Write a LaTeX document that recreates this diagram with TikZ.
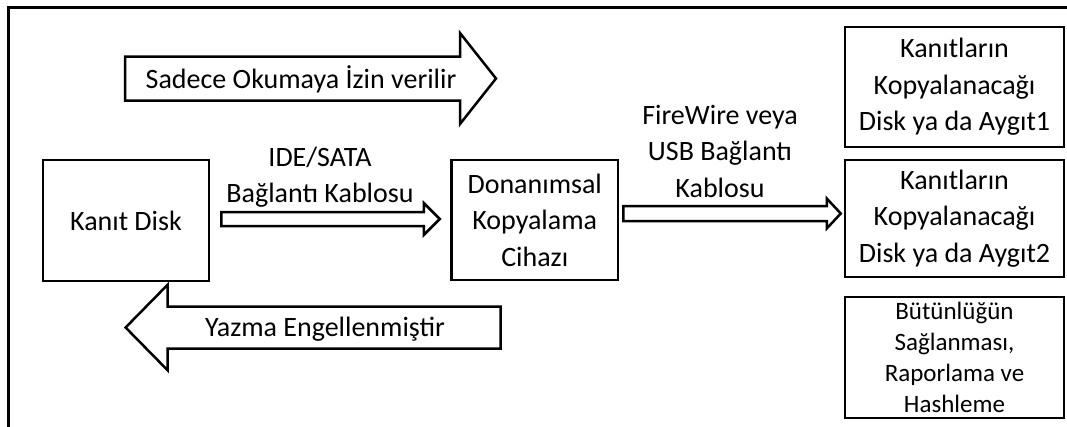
\documentclass[tikz,border=0pt]{standalone}
\usepackage{fontspec}
\setmainfont{Carlito}
\usetikzlibrary{calc}
\newcommand\myharrow[5]{%
  \draw[blockline] let \p1=(#1), \p2=(#2), \n1={\x2-(#5)} in
    (\x1,{\y2+#3}) -- (\n1,{\y2+#3}) -- (\n1,{\y2+#4}) -- (\x2,\y2)
    -- (\n1,{\y2-#4}) -- (\n1,{\y2-#3}) -- (\x1,{\y2-#3}) -- cycle;}
\tikzset{
  box/.style={draw, line width=2.5pt, rectangle, inner sep=0pt, align=center,
    font=\fontsize{28}{36.5}\selectfont},
  smallbox/.style={box, font=\fontsize{25}{31}\selectfont},
  lbl/.style={align=center, inner sep=0pt, font=\fontsize{28}{36}\selectfont},
  blockline/.style={draw, line width=2.5pt, fill=white, line join=miter},
}
\begin{document}
\begin{tikzpicture}[x=1pt,y=-1pt]
\useasboundingbox (0,0) rectangle (1067,426);
% outer frame
\draw[line width=3pt] (8.5,430) |- (1070,7.5);
% boxes
\node[box, minimum width=166pt, minimum height=121pt] (kd) at (126,220.5) {Kanıt Disk};
\node[box, minimum width=166.5pt, minimum height=120pt] (dk) at (534.75,220) {Donanımsal\\Kopyalama\\Cihazı};
\node[box, minimum width=219pt, minimum height=120pt] (b1) at (954.5,87) {Kanıtların\\Kopyalanacağı\\Disk ya da Aygıt1};
\node[box, minimum width=219pt, minimum height=117pt] (b2) at (954.5,218.5) {Kanıtların\\Kopyalanacağı\\Disk ya da Aygıt2};
\node[smallbox, minimum width=219pt, minimum height=121pt] (b3) at (954.5,357.5) {Bütünlüğün\\Sağlanması,\\Raporlama ve\\Hashleme};
% connectors
\coordinate (ideS) at ([xshift=11pt]kd.east);
\coordinate (ideT) at ([xshift=-10.5pt,yshift=1pt]dk.west);
\myharrow{ideS}{ideT}{7pt}{16pt}{16pt}
\coordinate (fwS) at ([xshift=4pt]dk.east);
\coordinate (fwT) at ([xshift=-3pt,yshift=5pt]b2.west);
\myharrow{fwS}{fwT}{7.5pt}{15pt}{14pt}
% labels on connectors
\node[lbl] (ideL) at (320,177) {IDE/SATA\\Bağlantı Kablosu};
\node[lbl, font=\fontsize{28}{36.5}\selectfont] (fwL) at (720,151) {FireWire veya\\USB Bağlantı\\Kablosu};
% big arrows
\coordinate (rdS) at (125,79);
\coordinate (rdT) at (496,78.5);
\myharrow{rdS}{rdT}{22pt}{45.5pt}{36pt}
\node[lbl] (rdL) at (301,79) {Sadece Okumaya İzin verilir};
\coordinate (wrS) at (500.5,328);
\coordinate (wrT) at (125.6,327.5);
\myharrow{wrS}{wrT}{21pt}{42.75pt}{-42pt}
\node[lbl] (wrL) at (325,329) {Yazma Engellenmiştir};
\end{tikzpicture}
\end{document}
